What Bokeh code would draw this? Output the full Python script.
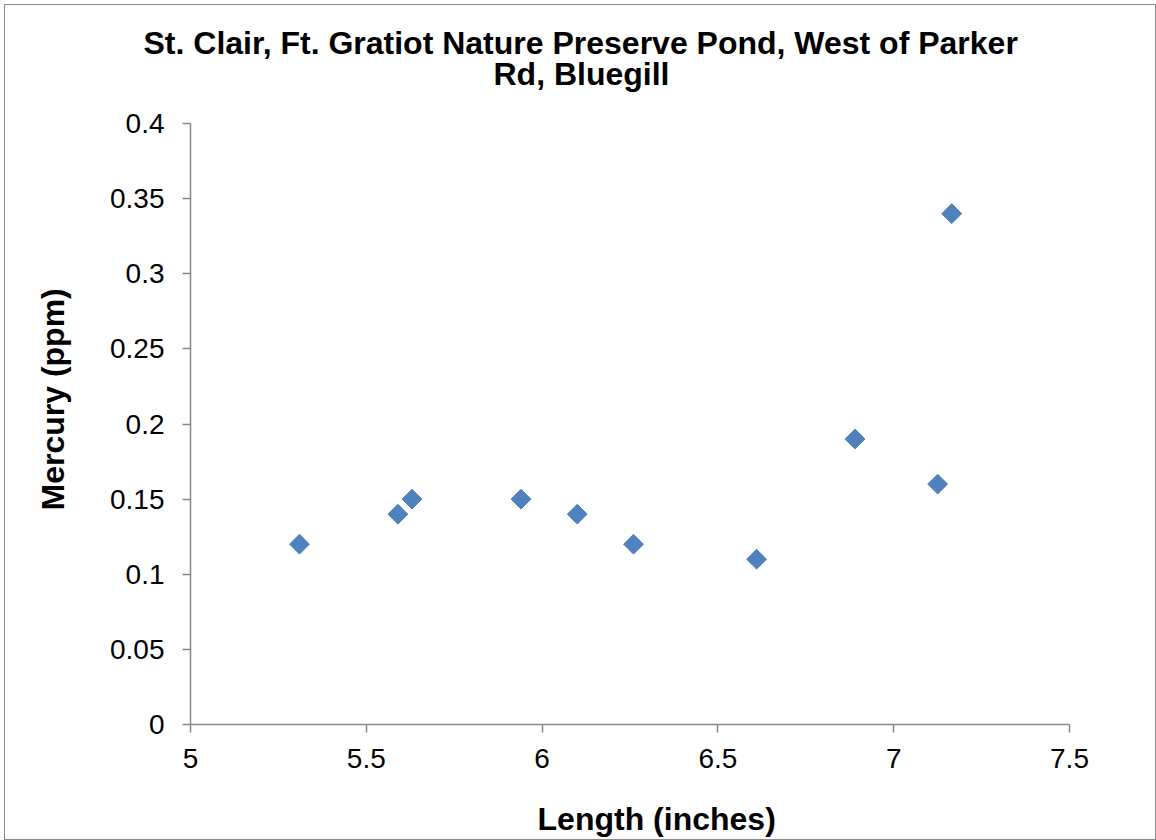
from bokeh.plotting import figure
from bokeh.models import Range1d, FixedTicker, Title, ColumnDataSource
from bokeh.embed import file_html
from bokeh.resources import INLINE
import numpy as np

# ---- data ----
length_in = [5.31, 5.59, 5.63, 5.94, 6.10, 6.26, 6.61, 6.89, 7.125, 7.165]
mercury_ppm = [0.12, 0.14, 0.15, 0.15, 0.14, 0.12, 0.11, 0.19, 0.16, 0.34]

x_ticks = [5, 5.5, 6, 6.5, 7, 7.5]
x_tick_labels = ["5", "5.5", "6", "6.5", "7", "7.5"]
y_ticks = [0, 0.05, 0.1, 0.15, 0.2, 0.25, 0.3, 0.35, 0.4]
y_tick_labels = ["0", "0.05", "0.1", "0.15", "0.2", "0.25", "0.3", "0.35", "0.4"]

title_lines = ["St. Clair, Ft. Gratiot Nature Preserve Pond, West of Parker",
               "Rd, Bluegill"]
x_label = "Length (inches)"
y_label = "Mercury (ppm)"

FONT = "Liberation Sans"
AXIS_COLOR = "#868686"
BORDER = "#8a8a8a"

W, H = 1156, 840
LEFT, TOP = 190, 123
FW, FH = 879, 601

p = figure(width=W, height=H, output_backend="svg", toolbar_location=None,
           x_range=Range1d(5, 7.5), y_range=Range1d(0, 0.4),
           min_border_left=LEFT, min_border_right=W - LEFT - FW,
           min_border_top=TOP, min_border_bottom=H - TOP - FH)
p.title.visible = False
p.outline_line_color = None
p.xgrid.visible = False
p.ygrid.visible = False
p.background_fill_color = "white"
p.border_fill_color = None
p.styles = {"background": "white",
            "box-shadow": f"inset 4px 4px 0 0 white, inset 5px 5px 0 0 {BORDER}, "
                          f"inset -1px -1px 0 0 {BORDER}"}

src = ColumnDataSource(dict(x=length_in, y=mercury_ppm))
p.scatter("x", "y", source=src, marker="square", size=14, angle=np.pi / 4,
          fill_color="#4F81BD", line_color="#4A7EBB", line_width=1)

for ax, ticks, labels, standoff in ((p.xaxis[0], x_ticks, x_tick_labels, 16),
                                    (p.yaxis[0], y_ticks, y_tick_labels, 18)):
    ax.ticker = FixedTicker(ticks=ticks)
    ax.major_label_overrides = {t: l for t, l in zip(ticks, labels)}
    ax.axis_line_color = AXIS_COLOR
    ax.axis_line_width = 1.5
    ax.major_tick_line_color = AXIS_COLOR
    ax.major_tick_line_width = 1.5
    ax.major_tick_out = 8
    ax.major_tick_in = 0
    ax.minor_tick_line_color = None
    ax.major_label_text_font = FONT
    ax.major_label_text_font_size = "28px"
    ax.major_label_text_color = "black"
    ax.major_label_standoff = standoff

# x-axis title: centred label, nudged right with leading no-break spaces
xa = p.xaxis[0]
xa.axis_label = "\u00a0" * 6 + x_label
xa.axis_label_text_font = FONT
xa.axis_label_text_font_style = "bold"
xa.axis_label_text_font_size = "32px"
xa.axis_label_text_color = "black"
xa.axis_label_standoff = 30

common = dict(text_font=FONT, text_font_style="bold", text_color="black",
              text_font_size="32px", align="left")
# above: first added sits closest to the frame
p.add_layout(Title(text=title_lines[1], offset=303, standoff=63, **common), "above")
p.add_layout(Title(text=title_lines[0], offset=-47, standoff=-76, **common), "above")
p.add_layout(Title(text=y_label, offset=214, standoff=69, vertical_align="top", **common), "left")

open("out.html", "w").write(file_html(p, INLINE))
